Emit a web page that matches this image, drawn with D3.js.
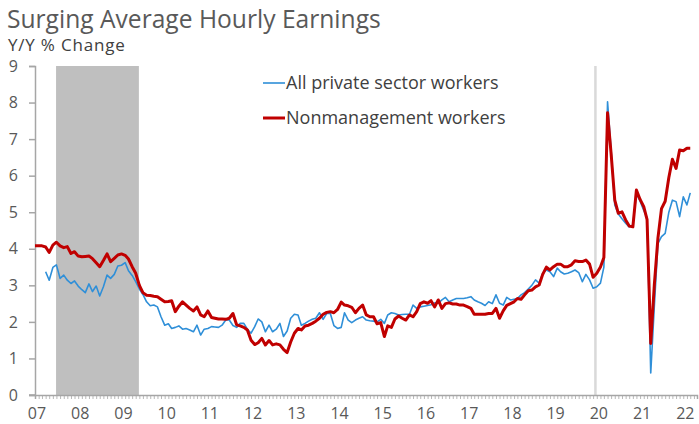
<!DOCTYPE html>
<html>
<head>
<meta charset="utf-8">
<script src="https://cdn.jsdelivr.net/npm/d3@7"></script>
<style>
  body { margin: 0; background: #fff; }
  svg { display: block; font-family: "Open Sans", sans-serif; }
</style>
</head>
<body>
<svg width="699" height="424"></svg>
<script>
// monthly Y/Y % change
const nonmgmtStart = "2007-01";
const nonmgmt = [
  4.08, 4.08, 4.08, 4.05, 3.90, 4.10, 4.18, 4.08, 4.03, 4.06, 3.87, 3.92, // 2007
  3.80, 3.78, 3.79, 3.80, 3.73, 3.62, 3.51, 3.68, 3.86, 3.65, 3.74, 3.83, // 2008
  3.86, 3.82, 3.72, 3.51, 3.33, 3.00, 2.80, 2.73, 2.72, 2.70, 2.69, 2.62, // 2009
  2.55, 2.56, 2.58, 2.28, 2.43, 2.55, 2.46, 2.37, 2.30, 2.41, 2.19, 2.14, // 2010
  2.30, 2.12, 2.10, 2.08, 2.08, 2.07, 2.10, 2.23, 1.92, 1.89, 1.85, 1.78, // 2011
  1.50, 1.38, 1.43, 1.55, 1.37, 1.49, 1.37, 1.40, 1.37, 1.25, 1.16, 1.45, // 2012
  1.69, 1.82, 1.78, 1.89, 1.91, 1.96, 2.02, 2.10, 2.21, 2.26, 2.28, 2.25, // 2013
  2.34, 2.54, 2.46, 2.44, 2.40, 2.25, 2.37, 2.46, 2.19, 2.14, 2.14, 1.95, // 2014
  1.98, 1.60, 1.89, 1.85, 2.08, 2.16, 2.10, 2.05, 2.19, 2.14, 2.28, 2.50, // 2015
  2.55, 2.51, 2.58, 2.41, 2.60, 2.37, 2.50, 2.52, 2.49, 2.49, 2.46, 2.46, // 2016
  2.42, 2.37, 2.21, 2.21, 2.21, 2.21, 2.23, 2.23, 2.37, 2.10, 2.30, 2.45, // 2017
  2.50, 2.55, 2.64, 2.62, 2.74, 2.85, 2.87, 2.96, 3.01, 3.30, 3.50, 3.42, // 2018
  3.51, 3.58, 3.58, 3.51, 3.51, 3.56, 3.67, 3.65, 3.65, 3.69, 3.58, 3.22, // 2019
  3.33, 3.50, 3.76, 7.72, 6.60, 5.33, 4.97, 5.01, 4.79, 4.62, 4.60, 5.61, // 2020
  5.35, 5.15, 4.80, 1.41, 3.00, 4.30, 5.10, 5.30, 5.95, 6.45, 6.20, 6.70, // 2021
  6.68, 6.75, 6.75                                                        // 2022
];

const allPrivateStart = "2007-04";
const allPrivate = [
                    3.37, 3.14, 3.49, 3.56, 3.19, 3.28, 3.14, 3.05, 3.12, // 2007
  2.98, 2.88, 2.80, 3.04, 2.83, 2.98, 2.71, 2.96, 3.28, 3.19, 3.30, 3.53, // 2008
  3.55, 3.62, 3.40, 3.27, 3.10, 2.90, 2.75, 2.55, 2.44, 2.46, 2.41, 2.14, // 2009
  1.91, 1.95, 1.82, 1.85, 1.89, 1.80, 1.82, 1.78, 1.73, 1.91, 1.64, 1.80, // 2010
  1.82, 1.87, 1.86, 1.85, 1.91, 2.05, 2.05, 1.90, 1.85, 1.96, 1.96, 1.80, // 2011
  1.69, 1.87, 2.08, 2.00, 1.73, 1.91, 1.73, 1.80, 1.96, 1.60, 1.75, 2.10, // 2012
  2.21, 2.19, 1.91, 1.96, 2.02, 2.07, 2.10, 2.25, 2.07, 2.23, 2.23, 1.90, // 2013
  1.82, 1.85, 2.25, 2.05, 1.98, 2.05, 2.10, 2.14, 2.05, 2.03, 2.02, 2.00, // 2014
  2.07, 1.96, 2.19, 2.25, 2.23, 2.19, 2.20, 2.21, 2.21, 2.46, 2.37, 2.41, // 2015
  2.43, 2.45, 2.47, 2.52, 2.51, 2.60, 2.67, 2.55, 2.60, 2.64, 2.64, 2.64, // 2016
  2.66, 2.69, 2.60, 2.55, 2.51, 2.45, 2.55, 2.50, 2.74, 2.51, 2.46, 2.67, // 2017
  2.60, 2.62, 2.64, 2.74, 2.80, 2.90, 3.00, 3.15, 3.06, 3.33, 3.42, 3.37, // 2018
  3.24, 3.47, 3.37, 3.31, 3.33, 3.37, 3.42, 3.35, 3.10, 3.30, 3.15, 2.92, // 2019
  2.96, 3.06, 3.50, 8.02, 6.70, 5.20, 4.95, 4.82, 4.70, 4.60, 4.65, 5.50, // 2020
  5.30, 5.05, 4.85, 0.60, 2.40, 4.15, 4.33, 4.42, 5.00, 5.33, 5.29, 4.88, // 2021
  5.42, 5.20, 5.53                                                        // 2022
];

const yTicks = [0, 1, 2, 3, 4, 5, 6, 7, 8, 9];
const yearLabels = ["07","08","09","10","11","12","13","14","15","16","17","18","19","20","21","22"];
// shaded periods
const shades = [["2007-06-28", "2009-05-28"], ["2019-12-10", "2019-12-31"]];

const svg = d3.select("svg");
const parseM = d3.timeParse("%Y-%m");
const parseD = d3.timeParse("%Y-%m-%d");

const mLeft = 35, mRight = 697, mTop = 66, mBottom = 395;

const x = d3.scaleTime()
  .domain([new Date(2007, 0, 1), new Date(2022, 3, 27)])
  .range([mLeft, mRight]);
const y = d3.scaleLinear().domain([0, 9]).range([mBottom, mTop]);

function toSeries(start, vals) {
  const s = parseM(start);
  return vals.map((v, i) => ({ date: d3.timeMonth.offset(s, i), v: v }));
}

const redData = toSeries(nonmgmtStart, nonmgmt);
const blueData = toSeries(allPrivateStart, allPrivate);

// shading
svg.append("g").selectAll("rect").data(shades).join("rect")
  .attr("x", d => x(parseD(d[0])))
  .attr("width", d => x(parseD(d[1])) - x(parseD(d[0])))
  .attr("y", mTop)
  .attr("height", mBottom - mTop)
  .attr("fill", (d, i) => i === 0 ? "#bfbfbf" : "#d9d9d9");

// y axis
const yAxis = svg.append("g")
  .attr("transform", `translate(${mLeft},0)`)
  .call(d3.axisLeft(y).tickValues(yTicks).tickSize(6).tickPadding(11));
yAxis.select(".domain").attr("stroke", "#a6a6a6").attr("stroke-width", 1.5);
yAxis.selectAll(".tick line").attr("stroke", "#a6a6a6").attr("stroke-width", 1.5);
yAxis.selectAll(".tick text")
  .attr("fill", "#595959").attr("font-size", 16).attr("font-family", "Open Sans, sans-serif");

// x axis with monthly minor ticks
const xAxis = svg.append("g")
  .attr("transform", `translate(0,${mBottom})`)
  .call(d3.axisBottom(x).ticks(d3.timeMonth.every(1)).tickSize(4).tickFormat(""));
xAxis.select(".domain").attr("stroke", "#a6a6a6").attr("stroke-width", 1.5);
xAxis.selectAll(".tick line").attr("stroke", "#a6a6a6").attr("stroke-width", 0.8);

svg.append("line")
  .attr("x1", mLeft - 6).attr("x2", mLeft)
  .attr("y1", mBottom).attr("y2", mBottom)
  .attr("stroke", "#a6a6a6").attr("stroke-width", 1.5);

svg.append("g").selectAll("text").data(yearLabels).join("text")
  .attr("x", (d, i) => x(new Date(2007 + i, 0, 1)) + 2)
  .attr("y", 419)
  .attr("text-anchor", "middle")
  .attr("font-size", 16)
  .attr("fill", "#595959")
  .text(d => d);

// lines
const line = d3.line().x(d => x(d.date)).y(d => y(d.v));

svg.append("path").datum(blueData)
  .attr("d", line)
  .attr("fill", "none")
  .attr("stroke", "#2f8fd8")
  .attr("stroke-width", 1.6)
  .attr("stroke-linejoin", "round");

svg.append("path").datum(redData)
  .attr("d", line)
  .attr("fill", "none")
  .attr("stroke", "#c00000")
  .attr("stroke-width", 3)
  .attr("stroke-linejoin", "round");

// legend
const legend = [
  { name: "All private sector workers", color: "#2f8fd8", w: 1.6, yy: 83 },
  { name: "Nonmanagement workers", color: "#c00000", w: 3, yy: 118 }
];
const lg = svg.append("g").selectAll("g").data(legend).join("g");
lg.append("line")
  .attr("x1", 263).attr("x2", 285)
  .attr("y1", d => d.yy).attr("y2", d => d.yy)
  .attr("stroke", d => d.color).attr("stroke-width", d => d.w);
lg.append("text")
  .attr("x", 286).attr("y", d => d.yy + 6)
  .attr("font-size", 18)
  .attr("fill", "#404040")
  .text(d => d.name);

// titles
svg.append("text")
  .attr("x", 7).attr("y", 28)
  .attr("font-size", 24.6)
  .attr("fill", "#595959")
  .text("Surging Average Hourly Earnings");
svg.append("text")
  .attr("x", 8).attr("y", 51)
  .attr("font-size", 17)
  .attr("letter-spacing", 0.8)
  .attr("fill", "#404040")
  .text("Y/Y % Change");
</script>
</body>
</html>
